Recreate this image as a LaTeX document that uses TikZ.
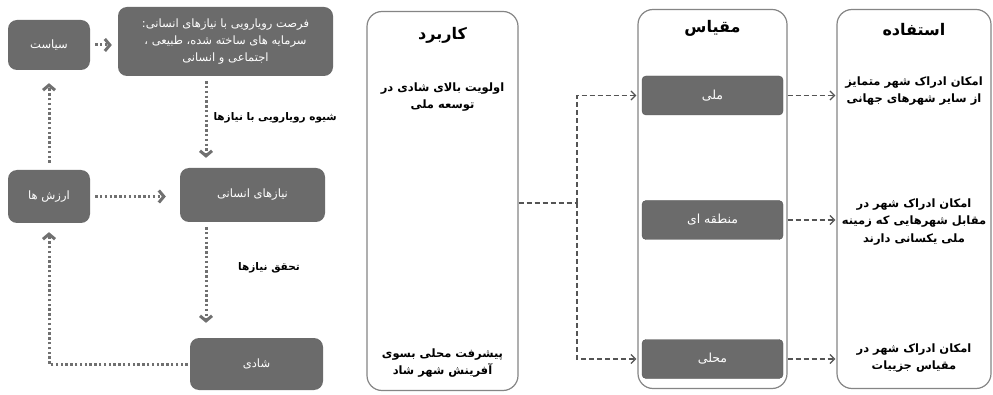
\documentclass[tikz,border=0pt]{standalone}
\usepackage{fontspec}
\newfontfamily\fa[Script=Arabic]{DejaVu Sans}
\TeXXeTstate=1
\newcommand{\rtl}[1]{\beginR #1\endR}
\usetikzlibrary{arrows.meta,positioning,calc}
\definecolor{boxgray}{HTML}{6B6B6B}
\definecolor{linegray}{HTML}{707070}
\definecolor{framegray}{HTML}{858585}
\tikzset{
  >={Straight Barb[length=5pt,width=12pt]},
  stage/.style={
    fill=boxgray, rounded corners=9pt, text=white,
    font=\fa\fontsize{11.5}{17}\selectfont,
    align=center, inner sep=0pt
  },
  column/.style={
    draw=framegray, line width=1.2pt, rounded corners=15pt, fill=white,
    minimum width=151pt, minimum height=379pt, inner sep=0pt
  },
  scalebox/.style={
    fill=boxgray, draw=boxgray!80!black, rounded corners=4pt, text=white,
    font=\fa\fontsize{12.5}{14}\selectfont,
    minimum width=141pt, minimum height=39pt, inner sep=0pt
  },
  coltitle/.style={
    font=\fa\bfseries\fontsize{16}{18}\selectfont
  },
  colitem/.style={
    font=\fa\bfseries\fontsize{11.5}{17.5}\selectfont, align=center
  },
  onarrow/.style={
    font=\fa\bfseries\fontsize{10.5}{12}\selectfont
  },
  dotflow/.style={
    draw=linegray, line width=3pt, dash pattern=on 2.4pt off 2.4pt,
    ->, shorten <=5pt
  },
  dashflow/.style={
    draw=linegray!75!black, line width=1.3pt, dash pattern=on 5pt off 3pt,
    -{Straight Barb[length=4.5pt,width=9pt]}, shorten >=1pt
  }
}

\begin{document}
\begin{tikzpicture}[x=1pt,y=-1pt]
  \useasboundingbox[fill=white] (0,0) rectangle (993,395);

  % left cycle
  \node[stage,minimum width=82pt,minimum height=50pt] (siasat) at (49,45) {\rtl{سیاست}};
  \node[stage,minimum width=215pt,minimum height=69pt] (forsat) at (225.5,41.5)
    {\rtl{فرصت رویارویی با نیازهای انسانی:}\\\rtl{سرمایه های ساخته شده، طبیعی ،}\\\rtl{اجتماعی و انسانی}};
  \node[stage,minimum width=82pt,minimum height=53pt] (arzesh) at (49,196.5) {\rtl{ارزش ها}};
  \node[stage,minimum width=145pt,minimum height=54pt] (niaz) at (252.5,195) {\rtl{نیازهای انسانی}};
  \node[stage,minimum width=133pt,minimum height=52pt] (shadi) at (256.5,364) {\rtl{شادی}};

  \coordinate (downx) at (206,0);
  \draw[dotflow,shorten >=6pt] (siasat.east) -- (siasat.east -| forsat.west);
  \draw[dotflow,shorten >=10pt] (forsat.south -| downx) -- (niaz.north -| downx);
  \draw[dotflow,shorten >=14pt] (arzesh.east) -- (arzesh.east -| niaz.west);
  \draw[dotflow,shorten >=15pt] (niaz.south -| downx) -- (shadi.north -| downx);
  \draw[dotflow,shorten <=2pt,shorten >=9pt] (shadi.west) -| (arzesh.south);
  \draw[dotflow,shorten <=7pt,shorten >=13pt] (arzesh.north) -- (siasat.south);

  \node[onarrow,anchor=west] (how) at (210,118) {\rtl{شیوه رویارویی با نیازها}};
  \node[onarrow] (meet) at (269,268) {\rtl{تحقق نیازها}};

  % right table
  \node[column] (karbord) at (442.5,201) {};
  \node[column,minimum width=149pt] (meghias) at (712.5,199) {};
  \node[column,minimum width=154pt] (estefade) at (914,199) {};

  \node[coltitle] (t1) at (442.5,35) {\rtl{کاربرد}};
  \node[coltitle] (t2) at (712.5,28) {\rtl{مقیاس}};
  \node[coltitle] (t3) at (914,30) {\rtl{استفاده}};

  \node[colitem] (k1) at (442.5,97) {\rtl{اولویت بالای شادی در}\\\rtl{توسعه ملی}};
  \node[colitem] (k2) at (442.5,363) {\rtl{پیشرفت محلی بسوی}\\\rtl{آفرینش شهر شاد}};

  \node[scalebox] (meli) at (712.5,95.5) {\rtl{ملی}};
  \node[scalebox] (mantaghe) at (712.5,220) {\rtl{منطقه ای}};
  \node[scalebox] (mahali) at (712.5,359) {\rtl{محلی}};

  \node[colitem] (e1) at (914,91) {\rtl{امکان ادراک شهر متمایز}\\\rtl{از سایر شهرهای جهانی}};
  \node[colitem] (e2) at (914,222) {\rtl{امکان ادراک شهر در}\\\rtl{مقابل شهرهایی که زمینه}\\\rtl{ملی یکسانی دارند}};
  \node[colitem] (e3) at (914,358) {\rtl{امکان ادراک شهر در}\\\rtl{مقیاس جزییات}};

  \coordinate (fork) at (577,203);
  \draw[dashflow,-] (karbord.east |- fork) -- (fork);
  \draw[dashflow] (fork) |- (meli.west -| meghias.west);
  \draw[dashflow] (fork) |- (mahali.west -| meghias.west);

  \draw[dashflow] (meli.east -| meghias.east) -- (meli.east -| estefade.west);
  \draw[dashflow] (mantaghe.east -| meghias.east) -- (mantaghe.east -| estefade.west);
  \draw[dashflow] (mahali.east -| meghias.east) -- (mahali.east -| estefade.west);
\end{tikzpicture}
\end{document}
